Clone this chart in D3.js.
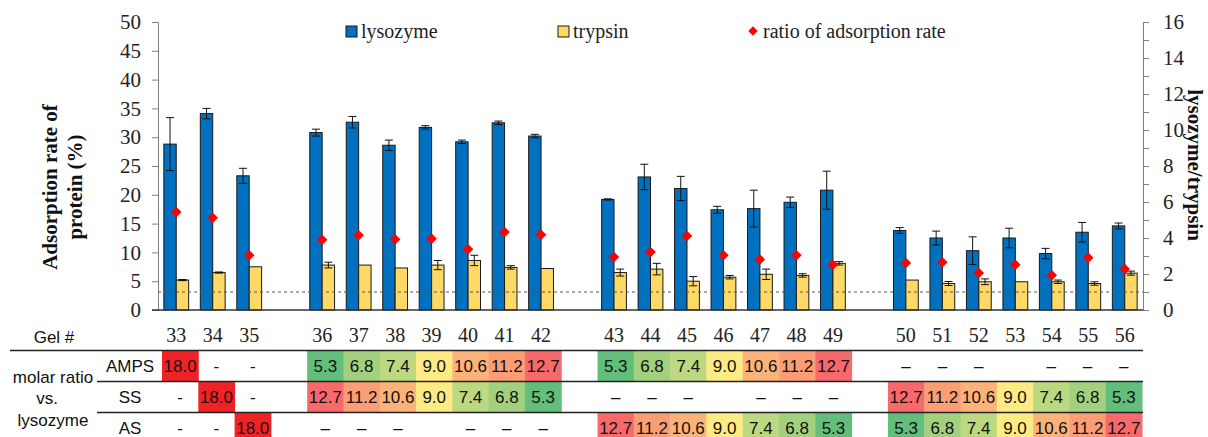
<!DOCTYPE html>
<html>
<head>
<meta charset="utf-8">
<script src="https://cdn.jsdelivr.net/npm/d3@7"></script>
<style>
  html, body { margin: 0; padding: 0; background: #fff; }
  svg { display: block; }
</style>
</head>
<body>
<svg id="chart" width="1208" height="437"></svg>
<script>
// Gel numbers and the first gel of each new group (an empty slot precedes it)
const gels = [33, 34, 35, 36, 37, 38, 39, 40, 41, 42, 43, 44, 45, 46, 47, 48, 49, 50, 51, 52, 53, 54, 55, 56];
const groupStarts = [36, 43, 50];

// Adsorption rate of protein (%) with error bars
const lysozyme    = [28.8, 34.1, 23.3, 30.8, 32.6, 28.6, 31.7, 29.2, 32.5, 30.2, 19.2, 23.1, 21.1, 17.4, 17.6, 18.7, 20.8, 13.8, 12.5, 10.3, 12.5, 9.8, 13.5, 14.6];
const lysozymeErr = [4.6, 0.9, 1.3, 0.6, 1.0, 0.9, 0.3, 0.3, 0.3, 0.3, 0.1, 2.2, 2.1, 0.6, 3.2, 0.9, 3.3, 0.5, 1.2, 2.4, 1.7, 0.9, 1.7, 0.5];
const trypsin     = [5.2, 6.5, 7.5, 7.8, 7.8, 7.3, 7.8, 8.6, 7.4, 7.2, 6.5, 7.1, 5.0, 5.7, 6.2, 6.0, 8.1, 5.2, 4.6, 4.9, 4.9, 4.9, 4.6, 6.4];
const trypsinErr  = [0.1, 0.1, 0.0, 0.5, 0.0, 0.0, 0.8, 0.9, 0.3, 0.0, 0.6, 1.0, 0.8, 0.3, 0.9, 0.3, 0.3, 0.0, 0.35, 0.5, 0.0, 0.3, 0.3, 0.35];

// Ratio of adsorption rate (lysozyme/trypsin), secondary axis
const ratio = [5.44, 5.13, 3.04, 3.90, 4.15, 3.93, 3.96, 3.37, 4.33, 4.18, 2.94, 3.22, 4.11, 3.04, 2.81, 3.04, 2.52, 2.61, 2.65, 2.06, 2.52, 1.93, 2.90, 2.28];
const ratioReference = 1;

// Axis ticks
const leftTicks = [0, 5, 10, 15, 20, 25, 30, 35, 40, 45, 50];
const rightTicks = [0, 1, 2, 3, 4, 5, 6, 7, 8, 9, 10, 11, 12, 13, 14, 15, 16];

// Molar ratio vs. lysozyme for each gel
const ampsRatio = ["18.0", "-", "-", "5.3", "6.8", "7.4", "9.0", "10.6", "11.2", "12.7", "5.3", "6.8", "7.4", "9.0", "10.6", "11.2", "12.7", "–", "–", "–", "", "–", "–", "–"];
const ssRatio   = ["-", "18.0", "-", "12.7", "11.2", "10.6", "9.0", "7.4", "6.8", "5.3", "–", "–", "–", "", "–", "–", "–", "12.7", "11.2", "10.6", "9.0", "7.4", "6.8", "5.3"];
const asRatio   = ["-", "-", "18.0", "–", "–", "–", "", "–", "–", "–", "12.7", "11.2", "10.6", "9.0", "7.4", "6.8", "5.3", "5.3", "6.8", "7.4", "9.0", "10.6", "11.2", "12.7"];
const tableRows = [
  { label: "AMPS", values: ampsRatio },
  { label: "SS",   values: ssRatio },
  { label: "AS",   values: asRatio }
];

const serif = "'Liberation Serif', 'Times New Roman', serif";
const sans = "'Liberation Sans', Arial, sans-serif";
const blue = "#0070c0";
const yellow = "#ffd966";

const svg = d3.select("#chart");

// Slots: one per gel plus an empty slot before each new group
const slots = [];
gels.forEach(g => {
  if (groupStarts.includes(g)) slots.push("gap" + g);
  slots.push(String(g));
});

const plotLeft = 158, plotRight = 1143, plotTop = 22, plotBottom = 310;
const x = d3.scaleBand().domain(slots).range([plotLeft, plotRight]);
const yL = d3.scaleLinear().domain([0, 50]).range([plotBottom, plotTop]);
const yR = d3.scaleLinear().domain([0, 16]).range([plotBottom, plotTop]);
const barW = x.bandwidth() * 0.34;

const rows = gels.map((g, i) => ({
  gel: g, key: String(g),
  lys: lysozyme[i], lysErr: lysozymeErr[i],
  tryp: trypsin[i], trypErr: trypsinErr[i],
  ratio: ratio[i]
}));
const cx = d => x(d.key) + x.bandwidth() / 2;

// Left axis
const axL = svg.append("g")
  .attr("transform", `translate(${plotLeft},0)`)
  .call(d3.axisLeft(yL).tickValues(leftTicks).tickSize(6).tickSizeOuter(0).tickPadding(11));
axL.select(".domain").attr("stroke", "#7f7f7f");
axL.selectAll(".tick line").attr("stroke", "#7f7f7f");
axL.selectAll(".tick text").attr("font-family", serif).attr("font-size", 21).attr("fill", "#222");

// Right axis
const axR = svg.append("g")
  .attr("transform", `translate(${plotRight},0)`)
  .call(d3.axisRight(yR).tickValues(rightTicks).tickSize(6).tickSizeOuter(0).tickPadding(14)
    .tickFormat(d => d % 2 === 0 ? d : ""));
axR.select(".domain").attr("stroke", "#7f7f7f");
axR.selectAll(".tick line").attr("stroke", "#7f7f7f");
axR.selectAll(".tick text").attr("font-family", serif).attr("font-size", 21).attr("fill", "#222");

// Bars
svg.append("g").selectAll("rect").data(rows).join("rect")
  .attr("x", d => cx(d) - barW).attr("width", barW)
  .attr("y", d => yL(d.lys)).attr("height", d => yL(0) - yL(d.lys))
  .attr("fill", blue).attr("stroke", "#1a1a1a").attr("stroke-width", 1);
svg.append("g").selectAll("rect").data(rows).join("rect")
  .attr("x", d => cx(d)).attr("width", barW)
  .attr("y", d => yL(d.tryp)).attr("height", d => yL(0) - yL(d.tryp))
  .attr("fill", yellow).attr("stroke", "#1a1a1a").attr("stroke-width", 1);

// Error bars
function errorBars(data, centre, val, err) {
  const g = svg.append("g").attr("stroke", "#111").attr("stroke-width", 1).attr("fill", "none");
  data.filter(d => err(d) > 0).forEach(d => {
    const c = centre(d), lo = yL(val(d) - err(d)), hi = yL(val(d) + err(d));
    g.append("line").attr("x1", c).attr("x2", c).attr("y1", lo).attr("y2", hi);
    g.append("line").attr("x1", c - 4).attr("x2", c + 4).attr("y1", hi).attr("y2", hi);
    g.append("line").attr("x1", c - 4).attr("x2", c + 4).attr("y1", lo).attr("y2", lo);
  });
}
errorBars(rows, d => cx(d) - barW / 2, d => d.lys, d => d.lysErr);
errorBars(rows, d => cx(d) + barW / 2, d => d.tryp, d => d.trypErr);

// Baseline
svg.append("line")
  .attr("x1", plotLeft - 6).attr("x2", plotRight).attr("y1", yL(0)).attr("y2", yL(0))
  .attr("stroke", "#333").attr("stroke-width", 1.5);

// Reference line at ratio = 1
svg.append("line")
  .attr("x1", plotLeft).attr("x2", plotRight)
  .attr("y1", yR(ratioReference)).attr("y2", yR(ratioReference))
  .attr("stroke", "#555").attr("stroke-width", 1).attr("stroke-dasharray", "3,3");

// Ratio markers
const diamond = d3.symbol().type(d3.symbolDiamond2).size(70);
svg.append("g").selectAll("path").data(rows).join("path")
  .attr("d", diamond)
  .attr("transform", d => `translate(${cx(d)},${yR(d.ratio)})`)
  .attr("fill", "#ff0000");

// Axis titles
const tL = svg.append("text")
  .attr("transform", "translate(57,187) rotate(-90)")
  .attr("text-anchor", "middle").attr("font-family", serif)
  .attr("font-size", 21).attr("font-weight", "bold").attr("fill", "#111");
tL.append("tspan").attr("x", 0).attr("dy", 0).text("Adsorption rate of");
tL.append("tspan").attr("x", 0).attr("dy", 25).text("protein (%)");

svg.append("text")
  .attr("transform", "translate(1188,165) rotate(90)")
  .attr("text-anchor", "middle").attr("font-family", serif)
  .attr("font-size", 21).attr("font-weight", "bold").attr("fill", "#111")
  .text("lysozyme/trypsin");

// Legend
const leg = svg.append("g").attr("font-family", serif).attr("font-size", 20).attr("fill", "#222");
leg.append("rect").attr("x", 346).attr("y", 26).attr("width", 11).attr("height", 11)
  .attr("fill", blue).attr("stroke", "#1a1a1a");
leg.append("text").attr("x", 361).attr("y", 38).text("lysozyme");
leg.append("rect").attr("x", 558).attr("y", 26).attr("width", 11).attr("height", 11)
  .attr("fill", yellow).attr("stroke", "#1a1a1a");
leg.append("text").attr("x", 573).attr("y", 38).text("trypsin");
leg.append("path").attr("d", d3.symbol().type(d3.symbolDiamond2).size(55))
  .attr("transform", "translate(753,31)").attr("fill", "#ff0000");
leg.append("text").attr("x", 763).attr("y", 38).text("ratio of adsorption rate");

// Gel number row
svg.append("g").selectAll("text").data(rows).join("text")
  .attr("x", d => cx(d)).attr("y", 342)
  .attr("text-anchor", "middle").attr("font-family", serif).attr("font-size", 20).attr("fill", "#222")
  .text(d => d.gel);

// Molar ratio table
const xt = d3.scaleBand().domain(slots).range([162, 1142]);
const heat = d3.scaleLinear().domain([5.3, 9.0, 12.7]).range(["#63be7b", "#ffeb84", "#f8696b"]);
const singleColour = "#ef2326";
const rowTop = [351, 382, 413], rowH = 30;

tableRows.forEach((r, ri) => {
  const g = svg.append("g");
  r.values.forEach((v, i) => {
    const key = String(gels[i]);
    const num = parseFloat(v);
    if (!isNaN(num)) {
      g.append("rect")
        .attr("x", xt(key)).attr("y", rowTop[ri])
        .attr("width", xt.bandwidth() + 0.5).attr("height", rowH)
        .attr("fill", num > 12.7 ? singleColour : heat(num));
    }
    if (v) {
      g.append("text")
        .attr("x", xt(key) + xt.bandwidth() / 2).attr("y", rowTop[ri] + rowH / 2 + 6)
        .attr("text-anchor", "middle").attr("font-family", sans).attr("font-size", 17)
        .attr("fill", "#111").text(v);
    }
  });
  g.append("text")
    .attr("x", 130).attr("y", rowTop[ri] + rowH / 2 + 6)
    .attr("text-anchor", "middle").attr("font-family", sans).attr("font-size", 17)
    .attr("fill", "#111").text(r.label);
});

// Table rules
svg.append("line").attr("x1", 10).attr("x2", plotRight).attr("y1", 350.5).attr("y2", 350.5)
  .attr("stroke", "#222").attr("stroke-width", 1.5);
[381.5, 412.5].forEach(yy => svg.append("line")
  .attr("x1", 97).attr("x2", plotRight).attr("y1", yy).attr("y2", yy)
  .attr("stroke", "#222").attr("stroke-width", 1.5));

// Table header labels
const lab = svg.append("g").attr("font-family", sans).attr("font-size", 17).attr("fill", "#111")
  .attr("text-anchor", "middle");
lab.append("text").attr("x", 54).attr("y", 343).text("Gel #");
lab.append("text").attr("x", 53).attr("y", 383).text("molar ratio");
lab.append("text").attr("x", 47).attr("y", 404).text("vs.");
lab.append("text").attr("x", 53).attr("y", 426).text("lysozyme");
</script>
</body>
</html>
